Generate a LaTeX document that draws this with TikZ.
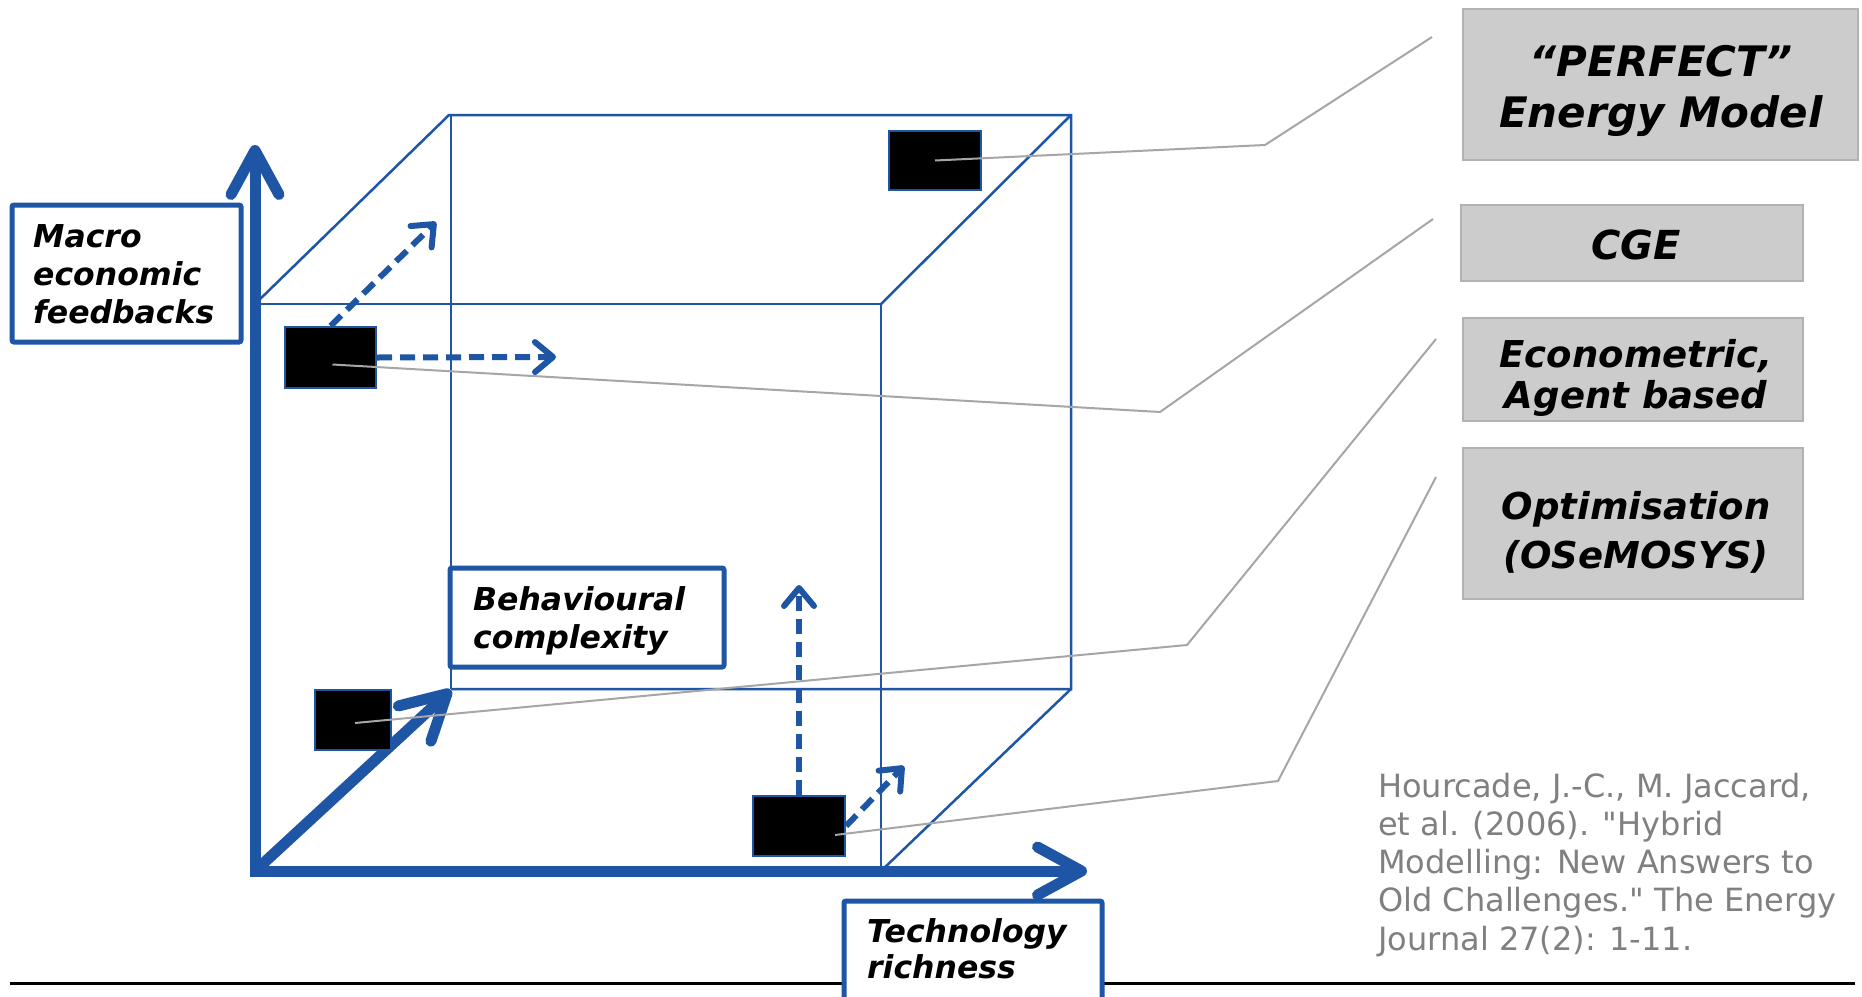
\documentclass[tikz,border=0pt]{standalone}
\usepackage{fontspec}
\setmainfont{DejaVu Sans}
% plain mapping, so that " stays a straight quote
\newfontfamily\citefont{DejaVu Sans}
\usetikzlibrary{arrows.meta,calc}

\definecolor{axisblue}{RGB}{31,85,165}
\definecolor{leadgray}{RGB}{166,166,166}
\definecolor{boxgray}{RGB}{204,204,204}
\definecolor{boxedge}{RGB}{178,178,178}
\definecolor{citegray}{RGB}{128,128,128}

\begin{document}
\begin{tikzpicture}[x=1pt,y=-1pt,
  bigbarb/.tip={Straight Barb[length=44pt,width=48pt,round]},
  smallbarb/.tip={Straight Barb[length=18pt,width=30pt,round]},
  axisline/.style={draw=axisblue,line width=11pt,line join=miter},
  cubeedge/.style={draw=axisblue,line width=2.5pt},
  cubethin/.style={draw=axisblue,line width=1.3pt},
  movearrow/.style={draw=axisblue,line width=6pt,dash pattern=on 15pt off 8pt,-smallbarb},
  modelsq/.style={draw=axisblue,fill=black,line width=2pt,inner sep=0pt},
  axisbox/.style={draw=axisblue,fill=white,line width=5pt,rounded corners=2pt,inner sep=0pt},
  modelbox/.style={draw=boxedge,fill=boxgray,line width=2.5pt,inner sep=0pt},
  axistext/.style={font=\fontsize{31.5}{38}\selectfont\bfseries\itshape,anchor=base west,inner sep=0pt},
  modeltext/.style={font=\fontsize{37}{44}\selectfont\bfseries\itshape,anchor=base,inner sep=0pt},
  citetext/.style={font=\citefont\fontsize{32}{38.4}\selectfont,text=citegray,anchor=base west,inner sep=0pt},
  leader/.style={draw=leadgray,line width=2pt}
]
\useasboundingbox (0,0) rectangle (1862,996);
\fill[white] (0,0) rectangle (1862,996);

% cube corners
\coordinate (F1) at (255,304);
\coordinate (F2) at (881,304);
\coordinate (F3) at (881,871);
\coordinate (B1) at (449,115);
\coordinate (B2) at (1071,115);
\coordinate (B3) at (1071,689);
\coordinate (B4) at (451,689);

% cube edges
\draw[cubethin] (451,115) -- (B4);
\draw[cubeedge] (F1) -- (F2) -- (F3);
\draw[cubeedge] (F1) -- (B1) -- (B2) -- (B3) -- (B4);
\draw[cubeedge] (F2) -- (B2);
\draw[cubeedge] (F3) -- (B3);

% axes
\coordinate (O) at (255,871);
\coordinate (Ytip) at (255,145);
\coordinate (Xtip) at (1087,871);
\coordinate (Ztip) at (451,690);
\draw[axisline,bigbarb-bigbarb] (Ytip) -- (O) -- (Xtip);
\draw[axisline,-bigbarb] (O) -- (Ztip);

% bottom rule
\draw[line width=3pt] (10,983) -- (1855,983);

% model positions
\node[modelsq,minimum width=92pt,minimum height=59pt] (sqA) at (935,160.5) {};
\node[modelsq,minimum width=91pt,minimum height=61pt] (sqB) at (330.5,357.5) {};
\node[modelsq,minimum width=76pt,minimum height=60pt] (sqC) at (353,720) {};
\node[modelsq,minimum width=92pt,minimum height=60pt] (sqD) at (799,826) {};

% directions of improvement
\coordinate (aTip) at (436,222);
\coordinate (bTip) at (556,357);
\coordinate (cTip) at (799,585);
\coordinate (dTip) at (904,766);
\draw[movearrow] (sqB.north) -- (aTip);
\draw[movearrow] (sqB.east) -- (bTip);
\draw[movearrow] (sqD.north) -- (cTip);
\draw[movearrow] (sqD.east) -- (dTip);

% axis labels
\node[axisbox,minimum width=229pt,minimum height=137pt] (macro) at (126.5,273.5) {};
\node[axistext] (macro1) at (33,247) {Macro};
\node[axistext] (macro2) at (33,285) {economic};
\node[axistext] (macro3) at (33,323) {feedbacks};

\node[axisbox,minimum width=274pt,minimum height=99pt] (behav) at (587,617.5) {};
\node[axistext] (behav1) at (473,610) {Behavioural};
\node[axistext] (behav2) at (473,648) {complexity};

\node[axisbox,minimum width=258pt,minimum height=119pt] (tech) at (973,960.5) {};
\node[axistext] (tech1) at (867,942) {Technology};
\node[axistext] (tech2) at (867,978) {richness};

% model classes
\node[modelbox,minimum width=395pt,minimum height=151pt] (perfect) at (1660.5,84.5) {};
\node[modeltext,font=\fontsize{42}{50}\selectfont\bfseries\itshape] (perfect1) at (1661,76) {“PERFECT”};
\node[modeltext,font=\fontsize{42}{50}\selectfont\bfseries\itshape] (perfect2) at (1661,127) {Energy Model};

\node[modelbox,minimum width=342pt,minimum height=76pt] (cge) at (1632,243) {};
\node[modeltext,font=\fontsize{40}{48}\selectfont\bfseries\itshape] (cge1) at (1636,259) {CGE};

\node[modelbox,minimum width=340pt,minimum height=103pt] (econ) at (1633,369.5) {};
\node[modeltext] (econ1) at (1636,367) {Econometric,};
\node[modeltext] (econ2) at (1636,408) {Agent based};

\node[modelbox,minimum width=340pt,minimum height=151pt] (optim) at (1633,523.5) {};
\node[modeltext] (optim1) at (1636,519) {Optimisation};
\node[modeltext] (optim2) at (1636,568) {(OSeMOSYS)};

% leader lines from each model position to its class
\coordinate (kA) at (1265,145);
\coordinate (eA) at (1432,37);
\coordinate (kB) at (1160,412);
\coordinate (eB) at (1433,219);
\coordinate (kC) at (1187,645);
\coordinate (eC) at (1436,339);
\coordinate (kD) at (1278,781);
\coordinate (eD) at (1436,477);
\draw[leader] (sqA.center) -- (kA) -- (eA);
\draw[leader] ($(sqB.center)+(2,7)$) -- (kB) -- (eB);
\draw[leader] ($(sqC.center)+(2,3)$) -- (kC) -- (eC);
\draw[leader] ($(sqD.center)+(36,9)$) -- (kD) -- (eD);

% reference
\node[citetext] (cite1) at (1378,797) {Hourcade, J.-C., M. Jaccard,};
\node[citetext] (cite2) at (1378,835) {et al. (2006). "Hybrid};
\node[citetext] (cite3) at (1378,873) {Modelling: New Answers to};
\node[citetext] (cite4) at (1378,911) {Old Challenges." The Energy};
\node[citetext] (cite5) at (1378,950) {Journal 27(2): 1-11.};
\end{tikzpicture}
\end{document}
